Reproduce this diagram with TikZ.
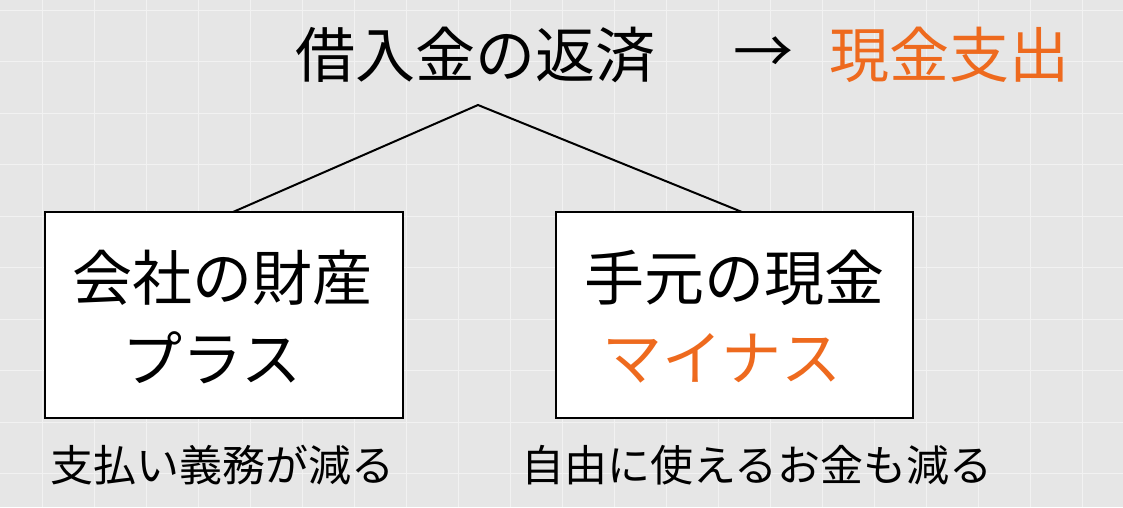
\documentclass[tikz,border=0pt]{standalone}
\usepackage{fontspec}
\newfontfamily\cjk{Noto Sans CJK JP}
\definecolor{bg}{HTML}{E6E6E6}
\definecolor{gridc}{HTML}{F2F2F2}
\definecolor{org}{HTML}{EE6A1E}
\begin{document}
\begin{tikzpicture}[x=1pt,y=-1pt,
  box/.style={draw=black,line width=2pt,fill=white},
  big/.style={font=\cjk\fontsize{60}{64}\selectfont,inner sep=0},
  small/.style={font=\cjk\fontsize{43}{46}\selectfont,inner sep=0}]
\fill[bg] (0,0) rectangle (1123,507);
\useasboundingbox (0,0) rectangle (1123,507);
\foreach \x in {42,94,...,1123} \draw[gridc,line width=1pt] (\x,0) -- (\x,507);
\foreach \y in {10,61.5,...,507} \draw[gridc,line width=1pt] (0,\y) -- (1123,\y);
\node[big] (t) at (475,55) {借入金の返済};
\node[big,anchor=west] (ar) at (733,55) {→};
\node[big,anchor=east,text=org] (r) at (1070,55) {現金支出};
\coordinate (top) at (478,105);
\node[box,minimum width=358pt,minimum height=206pt] (b1) at (224,315) {};
\node[box,minimum width=357pt,minimum height=206pt] (b2) at (734.5,315) {};
\draw[line width=2pt] (233,212) -- (top) -- (742,212);
\node[big] (a1) at (222,278) {会社の財産};
\node[big] (a2) at (212,358) {プラス};
\node[big] (c1) at (734,278) {手元の現金};
\node[big,text=org] (c2) at (722,358) {マイナス};
\node[small] (s1) at (222,465) {支払い義務が減る};
\node[small] (s2) at (757,465) {自由に使えるお金も減る};
\end{tikzpicture}
\end{document}
